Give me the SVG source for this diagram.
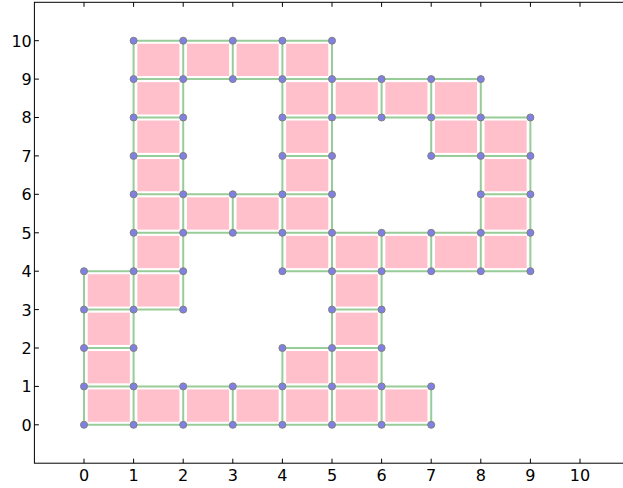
<svg xmlns="http://www.w3.org/2000/svg" width="623" height="488" viewBox="0 0 623 488">
<style>
.ax{fill:none;stroke:#000;stroke-width:1}
.tk{stroke:#000;stroke-width:1}
.lb{font-family:"DejaVu Sans",sans-serif;font-size:16px;fill:#000}
.xl{text-anchor:middle}
.yl{text-anchor:end}
.e{stroke:#98cc98;stroke-width:2;fill:none}
.c{fill:#ffc0cb;stroke:#fff;stroke-width:1.5}
.n{fill:#7f7fe6;stroke:#808080;stroke-width:1}
</style>
<rect width="623" height="488" fill="#fff"/>
<g id="axes">
<rect class="ax" x="34.4" y="2.3" width="595.2" height="460.9"/>
<path class="tk" d="M84,463.2v-4.5M133.6,463.2v-4.5M183.2,463.2v-4.5M232.8,463.2v-4.5M282.4,463.2v-4.5M332,463.2v-4.5M381.6,463.2v-4.5M431.2,463.2v-4.5M480.8,463.2v-4.5M530.4,463.2v-4.5M580,463.2v-4.5
M84,2.3v4.5M133.6,2.3v4.5M183.2,2.3v4.5M232.8,2.3v4.5M282.4,2.3v4.5M332,2.3v4.5M381.6,2.3v4.5M431.2,2.3v4.5M480.8,2.3v4.5M530.4,2.3v4.5M580,2.3v4.5
M34.4,424.8h4.5M34.4,386.4h4.5M34.4,348h4.5M34.4,309.6h4.5M34.4,271.2h4.5M34.4,232.8h4.5M34.4,194.3h4.5M34.4,155.9h4.5M34.4,117.5h4.5M34.4,79.1h4.5M34.4,40.7h4.5"/>
<g class="lb xl">
<text x="84" y="481">0</text><text x="133.6" y="481">1</text><text x="183.2" y="481">2</text><text x="232.8" y="481">3</text><text x="282.4" y="481">4</text><text x="332" y="481">5</text><text x="381.6" y="481">6</text><text x="431.2" y="481">7</text><text x="480.8" y="481">8</text><text x="530.4" y="481">9</text><text x="580" y="481">10</text>
</g>
<g class="lb yl">
<text x="31.8" y="430.7">0</text><text x="31.8" y="392.3">1</text><text x="31.8" y="353.9">2</text><text x="31.8" y="315.5">3</text><text x="31.8" y="277.1">4</text><text x="31.8" y="238.7">5</text><text x="31.8" y="200.2">6</text><text x="31.8" y="161.8">7</text><text x="31.8" y="123.4">8</text><text x="31.8" y="85">9</text><text x="31.8" y="46.6">10</text>
</g>
</g>
<g id="connectors" class="e">
<path d="M133.6,40.7H332M133.6,79.1H480.8M133.6,117.5H183.2M282.4,117.5H530.4M133.6,155.9H183.2M282.4,155.9H332M431.2,155.9H530.4M133.6,194.3H332M480.8,194.3H530.4M133.6,232.8H530.4M84,271.2H183.2M282.4,271.2H530.4M84,309.6H183.2M332,309.6H381.6M84,348H133.6M282.4,348H381.6M84,386.4H431.2M84,424.8H431.2"/>
<path d="M84,424.8V271.2M133.6,424.8V40.7M183.2,424.8V386.4M183.2,309.6V40.7M232.8,424.8V386.4M232.8,232.8V194.3M232.8,79.1V40.7M282.4,424.8V348M282.4,271.2V40.7M332,424.8V40.7M381.6,424.8V232.8M381.6,117.5V79.1M431.2,424.8V386.4M431.2,271.2V232.8M431.2,155.9V79.1M480.8,271.2V79.1M530.4,271.2V117.5"/>
</g>
<g id="cells">
<rect class="c" x="136.6" y="43" width="43.6" height="33.8"/><rect class="c" x="186.2" y="43" width="43.6" height="33.8"/><rect class="c" x="235.8" y="43" width="43.6" height="33.8"/><rect class="c" x="285.4" y="43" width="43.6" height="33.8"/>
<rect class="c" x="136.6" y="81.4" width="43.6" height="33.8"/><rect class="c" x="285.4" y="81.4" width="43.6" height="33.8"/><rect class="c" x="335" y="81.4" width="43.6" height="33.8"/><rect class="c" x="384.6" y="81.4" width="43.6" height="33.8"/><rect class="c" x="434.2" y="81.4" width="43.6" height="33.8"/>
<rect class="c" x="136.6" y="119.8" width="43.6" height="33.8"/><rect class="c" x="285.4" y="119.8" width="43.6" height="33.8"/><rect class="c" x="434.2" y="119.8" width="43.6" height="33.8"/><rect class="c" x="483.8" y="119.8" width="43.6" height="33.8"/>
<rect class="c" x="136.6" y="158.2" width="43.6" height="33.8"/><rect class="c" x="285.4" y="158.2" width="43.6" height="33.8"/><rect class="c" x="483.8" y="158.2" width="43.6" height="33.8"/>
<rect class="c" x="136.6" y="196.6" width="43.6" height="33.8"/><rect class="c" x="186.2" y="196.6" width="43.6" height="33.8"/><rect class="c" x="235.8" y="196.6" width="43.6" height="33.8"/><rect class="c" x="285.4" y="196.6" width="43.6" height="33.8"/><rect class="c" x="483.8" y="196.6" width="43.6" height="33.8"/>
<rect class="c" x="136.6" y="235.1" width="43.6" height="33.8"/><rect class="c" x="285.4" y="235.1" width="43.6" height="33.8"/><rect class="c" x="335" y="235.1" width="43.6" height="33.8"/><rect class="c" x="384.6" y="235.1" width="43.6" height="33.8"/><rect class="c" x="434.2" y="235.1" width="43.6" height="33.8"/><rect class="c" x="483.8" y="235.1" width="43.6" height="33.8"/>
<rect class="c" x="87" y="273.5" width="43.6" height="33.8"/><rect class="c" x="136.6" y="273.5" width="43.6" height="33.8"/><rect class="c" x="335" y="273.5" width="43.6" height="33.8"/>
<rect class="c" x="87" y="311.9" width="43.6" height="33.8"/><rect class="c" x="335" y="311.9" width="43.6" height="33.8"/>
<rect class="c" x="87" y="350.3" width="43.6" height="33.8"/><rect class="c" x="285.4" y="350.3" width="43.6" height="33.8"/><rect class="c" x="335" y="350.3" width="43.6" height="33.8"/>
<rect class="c" x="87" y="388.7" width="43.6" height="33.8"/><rect class="c" x="136.6" y="388.7" width="43.6" height="33.8"/><rect class="c" x="186.2" y="388.7" width="43.6" height="33.8"/><rect class="c" x="235.8" y="388.7" width="43.6" height="33.8"/><rect class="c" x="285.4" y="388.7" width="43.6" height="33.8"/><rect class="c" x="335" y="388.7" width="43.6" height="33.8"/><rect class="c" x="384.6" y="388.7" width="43.6" height="33.8"/>
</g>
<g id="nodes" class="n">
<g id="n1_10"><circle cx="133.6" cy="40.7" r="3.5"/></g><g id="n2_10"><circle cx="183.2" cy="40.7" r="3.5"/></g><g id="n3_10"><circle cx="232.8" cy="40.7" r="3.5"/></g><g id="n4_10"><circle cx="282.4" cy="40.7" r="3.5"/></g><g id="n5_10"><circle cx="332" cy="40.7" r="3.5"/></g>
<g id="n1_9"><circle cx="133.6" cy="79.1" r="3.5"/></g><g id="n2_9"><circle cx="183.2" cy="79.1" r="3.5"/></g><g id="n3_9"><circle cx="232.8" cy="79.1" r="3.5"/></g><g id="n4_9"><circle cx="282.4" cy="79.1" r="3.5"/></g><g id="n5_9"><circle cx="332" cy="79.1" r="3.5"/></g><g id="n6_9"><circle cx="381.6" cy="79.1" r="3.5"/></g><g id="n7_9"><circle cx="431.2" cy="79.1" r="3.5"/></g><g id="n8_9"><circle cx="480.8" cy="79.1" r="3.5"/></g>
<g id="n1_8"><circle cx="133.6" cy="117.5" r="3.5"/></g><g id="n2_8"><circle cx="183.2" cy="117.5" r="3.5"/></g><g id="n4_8"><circle cx="282.4" cy="117.5" r="3.5"/></g><g id="n5_8"><circle cx="332" cy="117.5" r="3.5"/></g><g id="n6_8"><circle cx="381.6" cy="117.5" r="3.5"/></g><g id="n7_8"><circle cx="431.2" cy="117.5" r="3.5"/></g><g id="n8_8"><circle cx="480.8" cy="117.5" r="3.5"/></g><g id="n9_8"><circle cx="530.4" cy="117.5" r="3.5"/></g>
<g id="n1_7"><circle cx="133.6" cy="155.9" r="3.5"/></g><g id="n2_7"><circle cx="183.2" cy="155.9" r="3.5"/></g><g id="n4_7"><circle cx="282.4" cy="155.9" r="3.5"/></g><g id="n5_7"><circle cx="332" cy="155.9" r="3.5"/></g><g id="n7_7"><circle cx="431.2" cy="155.9" r="3.5"/></g><g id="n8_7"><circle cx="480.8" cy="155.9" r="3.5"/></g><g id="n9_7"><circle cx="530.4" cy="155.9" r="3.5"/></g>
<g id="n1_6"><circle cx="133.6" cy="194.3" r="3.5"/></g><g id="n2_6"><circle cx="183.2" cy="194.3" r="3.5"/></g><g id="n3_6"><circle cx="232.8" cy="194.3" r="3.5"/></g><g id="n4_6"><circle cx="282.4" cy="194.3" r="3.5"/></g><g id="n5_6"><circle cx="332" cy="194.3" r="3.5"/></g><g id="n8_6"><circle cx="480.8" cy="194.3" r="3.5"/></g><g id="n9_6"><circle cx="530.4" cy="194.3" r="3.5"/></g>
<g id="n1_5"><circle cx="133.6" cy="232.8" r="3.5"/></g><g id="n2_5"><circle cx="183.2" cy="232.8" r="3.5"/></g><g id="n3_5"><circle cx="232.8" cy="232.8" r="3.5"/></g><g id="n4_5"><circle cx="282.4" cy="232.8" r="3.5"/></g><g id="n5_5"><circle cx="332" cy="232.8" r="3.5"/></g><g id="n6_5"><circle cx="381.6" cy="232.8" r="3.5"/></g><g id="n7_5"><circle cx="431.2" cy="232.8" r="3.5"/></g><g id="n8_5"><circle cx="480.8" cy="232.8" r="3.5"/></g><g id="n9_5"><circle cx="530.4" cy="232.8" r="3.5"/></g>
<g id="n0_4"><circle cx="84" cy="271.2" r="3.5"/></g><g id="n1_4"><circle cx="133.6" cy="271.2" r="3.5"/></g><g id="n2_4"><circle cx="183.2" cy="271.2" r="3.5"/></g><g id="n4_4"><circle cx="282.4" cy="271.2" r="3.5"/></g><g id="n5_4"><circle cx="332" cy="271.2" r="3.5"/></g><g id="n6_4"><circle cx="381.6" cy="271.2" r="3.5"/></g><g id="n7_4"><circle cx="431.2" cy="271.2" r="3.5"/></g><g id="n8_4"><circle cx="480.8" cy="271.2" r="3.5"/></g><g id="n9_4"><circle cx="530.4" cy="271.2" r="3.5"/></g>
<g id="n0_3"><circle cx="84" cy="309.6" r="3.5"/></g><g id="n1_3"><circle cx="133.6" cy="309.6" r="3.5"/></g><g id="n2_3"><circle cx="183.2" cy="309.6" r="3.5"/></g><g id="n5_3"><circle cx="332" cy="309.6" r="3.5"/></g><g id="n6_3"><circle cx="381.6" cy="309.6" r="3.5"/></g>
<g id="n0_2"><circle cx="84" cy="348" r="3.5"/></g><g id="n1_2"><circle cx="133.6" cy="348" r="3.5"/></g><g id="n4_2"><circle cx="282.4" cy="348" r="3.5"/></g><g id="n5_2"><circle cx="332" cy="348" r="3.5"/></g><g id="n6_2"><circle cx="381.6" cy="348" r="3.5"/></g>
<g id="n0_1"><circle cx="84" cy="386.4" r="3.5"/></g><g id="n1_1"><circle cx="133.6" cy="386.4" r="3.5"/></g><g id="n2_1"><circle cx="183.2" cy="386.4" r="3.5"/></g><g id="n3_1"><circle cx="232.8" cy="386.4" r="3.5"/></g><g id="n4_1"><circle cx="282.4" cy="386.4" r="3.5"/></g><g id="n5_1"><circle cx="332" cy="386.4" r="3.5"/></g><g id="n6_1"><circle cx="381.6" cy="386.4" r="3.5"/></g><g id="n7_1"><circle cx="431.2" cy="386.4" r="3.5"/></g>
<g id="n0_0"><circle cx="84" cy="424.8" r="3.5"/></g><g id="n1_0"><circle cx="133.6" cy="424.8" r="3.5"/></g><g id="n2_0"><circle cx="183.2" cy="424.8" r="3.5"/></g><g id="n3_0"><circle cx="232.8" cy="424.8" r="3.5"/></g><g id="n4_0"><circle cx="282.4" cy="424.8" r="3.5"/></g><g id="n5_0"><circle cx="332" cy="424.8" r="3.5"/></g><g id="n6_0"><circle cx="381.6" cy="424.8" r="3.5"/></g><g id="n7_0"><circle cx="431.2" cy="424.8" r="3.5"/></g>
</g>
</svg>
